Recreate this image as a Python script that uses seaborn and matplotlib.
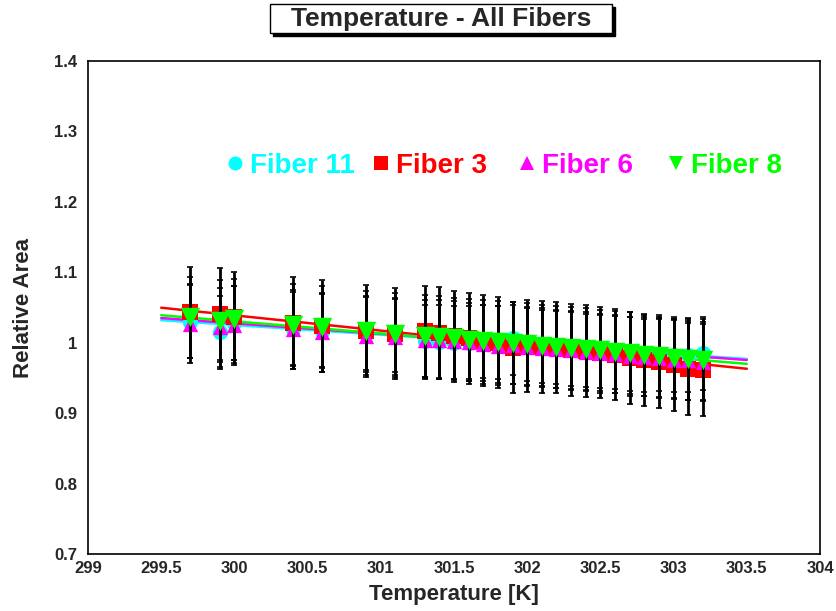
import matplotlib
matplotlib.use("Agg")
import matplotlib.pyplot as plt
import seaborn as sns
import numpy as np
import pandas as pd
from matplotlib.patches import Rectangle
from matplotlib.ticker import MultipleLocator, FormatStrFormatter

# temperatures of the measurements
temps = [299.7, 299.9, 300.0, 300.4, 300.6, 300.9, 301.1, 301.3, 301.4, 301.5,
         301.6, 301.7, 301.8, 301.9, 302.0, 302.1, 302.2, 302.3, 302.4, 302.5,
         302.6, 302.7, 302.8, 302.9, 303.0, 303.1, 303.2]

fiber11 = [1.030, 1.015, 1.028, 1.020, 1.017, 1.013, 1.010, 1.002, 1.001, 1.000,
           1.000, 1.002, 1.000, 1.006, 0.997, 0.995, 0.993, 0.991, 0.989, 0.987,
           0.986, 0.984, 0.982, 0.983, 0.982, 0.982, 0.985]
fiber3 = [1.043, 1.041, 1.036, 1.028, 1.024, 1.017, 1.013, 1.016, 1.014, 1.009,
          1.006, 1.003, 1.000, 0.993, 0.995, 0.994, 0.993, 0.990, 0.988, 0.986,
          0.983, 0.978, 0.975, 0.972, 0.968, 0.963, 0.961]
fiber6 = [1.027, 1.022, 1.025, 1.019, 1.015, 1.010, 1.008, 1.004, 1.004, 1.003,
          1.001, 0.998, 0.996, 0.997, 0.994, 0.993, 0.991, 0.989, 0.987, 0.985,
          0.984, 0.981, 0.980, 0.978, 0.976, 0.975, 0.973]
fiber8 = [1.036, 1.031, 1.033, 1.025, 1.022, 1.016, 1.012, 1.010, 1.008, 1.006,
          1.004, 1.003, 1.001, 1.000, 0.998, 0.996, 0.994, 0.992, 0.991, 0.989,
          0.987, 0.985, 0.983, 0.981, 0.979, 0.977, 0.976]

# rough error per fiber
errs = {"Fiber 11": 0.052, "Fiber 3": 0.065, "Fiber 6": 0.056, "Fiber 8": 0.058}

# linear fit lines, end points
fit_x = [299.5, 303.5]
fits = {"Fiber 11": [1.032, 0.977], "Fiber 3": [1.0497, 0.963],
        "Fiber 6": [1.035, 0.9755], "Fiber 8": [1.039, 0.970]}

names = ["Fiber 11", "Fiber 3", "Fiber 6", "Fiber 8"]
values = [fiber11, fiber3, fiber6, fiber8]
colors = ["#00ffff", "#ff0000", "#ff00ff", "#00ff00"]
markers = ["o", "s", "^", "v"]
msizes = [11, 11, 11, 14]

sns.set_style("white")
plt.rcParams["font.family"] = ["Liberation Sans", "DejaVu Sans"]
plt.rcParams["font.weight"] = "bold"

fig = plt.figure(figsize=(8.36, 6.11), dpi=100)
ax = fig.add_axes([88 / 836, 1 - 554 / 611, 732 / 836, 493 / 611])

for i, (name, vals) in enumerate(zip(names, values)):
    df = pd.DataFrame({"T": temps, "A": vals})
    fdf = pd.DataFrame({"T": fit_x, "A": fits[name]})
    sns.lineplot(data=fdf, x="T", y="A", color=colors[i], lw=1.8, ax=ax,
                 zorder=1.5)
    ax.errorbar(temps, vals, yerr=errs[name], fmt="none", ecolor="black",
                elinewidth=2.0, capsize=2.5, capthick=1.2, zorder=2 + 2 * i)
    sns.scatterplot(data=df, x="T", y="A", color=colors[i], marker=markers[i],
                    s=msizes[i] ** 2, linewidth=0, ax=ax, zorder=3 + 2 * i)

ax.set_xlim(299, 304)
ax.set_ylim(0.7, 1.4)
ax.xaxis.set_major_locator(MultipleLocator(0.5))
ax.xaxis.set_minor_locator(MultipleLocator(0.1))
ax.yaxis.set_major_locator(MultipleLocator(0.1))
ax.yaxis.set_minor_locator(MultipleLocator(0.02))
ax.xaxis.set_major_formatter(FormatStrFormatter("%g"))
ax.yaxis.set_major_formatter(FormatStrFormatter("%g"))
ax.tick_params(which="both", direction="in", top=False, right=False,
               labelsize=12, color="black", width=1)
ax.tick_params(which="major", length=13, pad=5)
ax.tick_params(which="minor", length=7)
ax.tick_params(axis="y", pad=8)
for lab in ax.get_xticklabels() + ax.get_yticklabels():
    lab.set_fontweight("bold")
for sp in ax.spines.values():
    sp.set_color("black")
    sp.set_linewidth(1.2)

ax.set_xlabel("Temperature [K]", fontsize=16, fontweight="bold", labelpad=6)
ax.set_ylabel("Relative Area", fontsize=16, fontweight="bold", labelpad=14)

# legend entries placed like the ROOT legend
leg_mx = [235, 381, 527, 676]
leg_ms = [10, 10, 10, 10]
leg_y = 1 - 163 / 611
for name, c, m, mx, ms in zip(names, colors, markers, leg_mx, leg_ms):
    fig.lines.append(plt.Line2D([mx / 836], [leg_y], transform=fig.transFigure,
                                ls="none", marker=m, color=c, markersize=ms,
                                markeredgewidth=0))
    fig.text((mx + 15) / 836, leg_y, name, color=c, fontsize=20,
             fontweight="bold", ha="left", va="center_baseline")

# title box with shadow
fig.patches.append(Rectangle((273 / 836, 1 - 36 / 611), 342 / 836, 29 / 611,
                             transform=fig.transFigure, fc="black", ec="black"))
fig.patches.append(Rectangle((270 / 836, 1 - 33 / 611), 342 / 836, 29 / 611,
                             transform=fig.transFigure, fc="white", ec="black",
                             lw=1))
fig.text(441 / 836, 1 - 26 / 611, "Temperature - All Fibers", ha="center",
         va="baseline", fontsize=19, fontweight="bold")

fig.savefig("out.png", dpi=100)
